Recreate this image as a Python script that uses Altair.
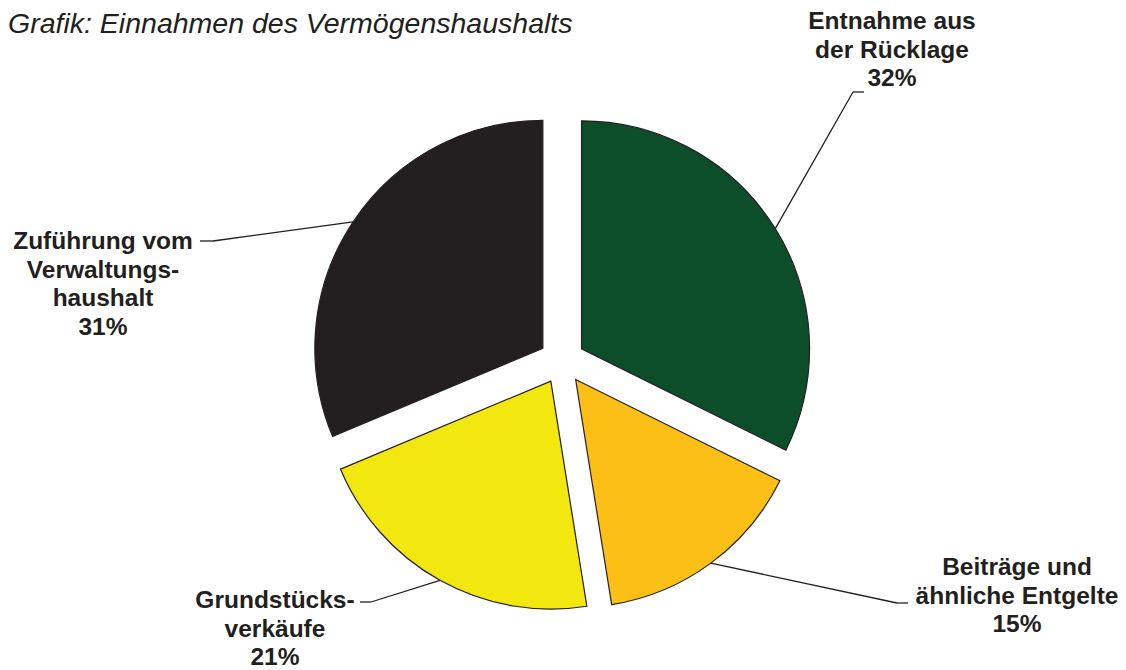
import altair as alt
import pandas as pd

# ---- data -------------------------------------------------------------
title_text = "Grafik: Einnahmen des Vermögenshaushalts"
categories = [
    "Entnahme aus der Rücklage",
    "Beiträge und ähnliche Entgelte",
    "Grundstücksverkäufe",
    "Zuführung vom Verwaltungshaushalt",
]
values = [32, 15, 21, 31]
label_lines = [
    ["Entnahme aus", "der Rücklage"],
    ["Beiträge und", "ähnliche Entgelte"],
    ["Grundstücks-", "verkäufe"],
    ["Zuführung vom", "Verwaltungs-", "haushalt"],
]
colors = ["#0C4E2A", "#FBBF15", "#F2E80F", "#231F20"]

# ---- layout -----------------------------------------------------------
W, H = 1110, 662
CX, CY = 554, 353       # pie centre (px)
R = 228                 # pie radius
EXPLODE = 23            # slice displacement
INK = "#231F20"
FONT = "Liberation Sans"

# label layout per slice: text centre x, first baseline y, leader elbow, leader tail
label_x = [884, 1009, 267, 95]
label_y = [21, 567, 600, 241]
elbow_x = [845, 889, 363, 205]
elbow_y = [84, 595, 594, 233]
tail_x = [856, 900, 352, 192]

df = pd.DataFrame({
    "category": categories,
    "value": values,
    "order": list(range(len(values))),
    "color": colors,
    "label": ["\n".join(l + [f"{v}%"]) for l, v in zip(label_lines, values)],
    "label_x": label_x,
    "label_y": label_y,
    "elbow_x": elbow_x,
    "elbow_y": elbow_y,
    "tail_x": tail_x,
})

base = (
    alt.Chart(df)
    .transform_window(cum="sum(value)", sort=[alt.SortField("order")], frame=[None, 0])
    .transform_joinaggregate(total="sum(value)")
    .transform_calculate(t0="(datum.cum - datum.value) / datum.total * 2 * PI")
    .transform_calculate(t1="datum.cum / datum.total * 2 * PI")
    .transform_calculate(mid="(datum.t0 + datum.t1) / 2")
    .transform_calculate(px=f"{CX} + {EXPLODE} * sin(datum.mid)")
    .transform_calculate(py=f"{CY} - {EXPLODE} * cos(datum.mid)")
    .transform_calculate(ax=f"{CX} + {R + EXPLODE} * sin(datum.mid)")
    .transform_calculate(ay=f"{CY} - {R + EXPLODE} * cos(datum.mid)")
)

arcs = base.mark_arc(radius=R, stroke=INK, strokeWidth=1.2).encode(
    x=alt.X("px:Q", scale=None, axis=None),
    y=alt.Y("py:Q", scale=None, axis=None),
    theta=alt.Theta("t0:Q", scale=None, stack=None),
    theta2="t1:Q",
    color=alt.Color("color:N", scale=None),
)

leader_diag = base.mark_rule(color=INK, strokeWidth=1.3).encode(
    x=alt.X("ax:Q", scale=None, axis=None),
    y=alt.Y("ay:Q", scale=None, axis=None),
    x2="elbow_x:Q",
    y2="elbow_y:Q",
)

leader_tail = base.mark_rule(color=INK, strokeWidth=1.3).encode(
    x=alt.X("elbow_x:Q", scale=None, axis=None),
    y=alt.Y("elbow_y:Q", scale=None, axis=None),
    x2="tail_x:Q",
    y2="elbow_y:Q",
)

labels = base.mark_text(
    font=FONT, fontWeight="bold", fontSize=24.5, lineHeight=28.5,
    align="center", baseline="alphabetic", color=INK, lineBreak="\n",
).encode(
    x=alt.X("label_x:Q", scale=None, axis=None),
    y=alt.Y("label_y:Q", scale=None, axis=None),
    text="label:N",
)

title = alt.Chart(pd.DataFrame({"t": [title_text]})).mark_text(
    font=FONT, fontStyle="italic", fontSize=28.5, align="left",
    baseline="alphabetic", color=INK,
).encode(x=alt.value(0), y=alt.value(25), text="t:N")

chart = (
    alt.layer(arcs, leader_diag, leader_tail, labels, title)
    .properties(width=W, height=H, padding=0, autosize=alt.AutoSizeParams(type="none"))
    .configure_view(stroke=None)
)

chart.save("out.html", embed_options={"renderer": "svg", "actions": False})
